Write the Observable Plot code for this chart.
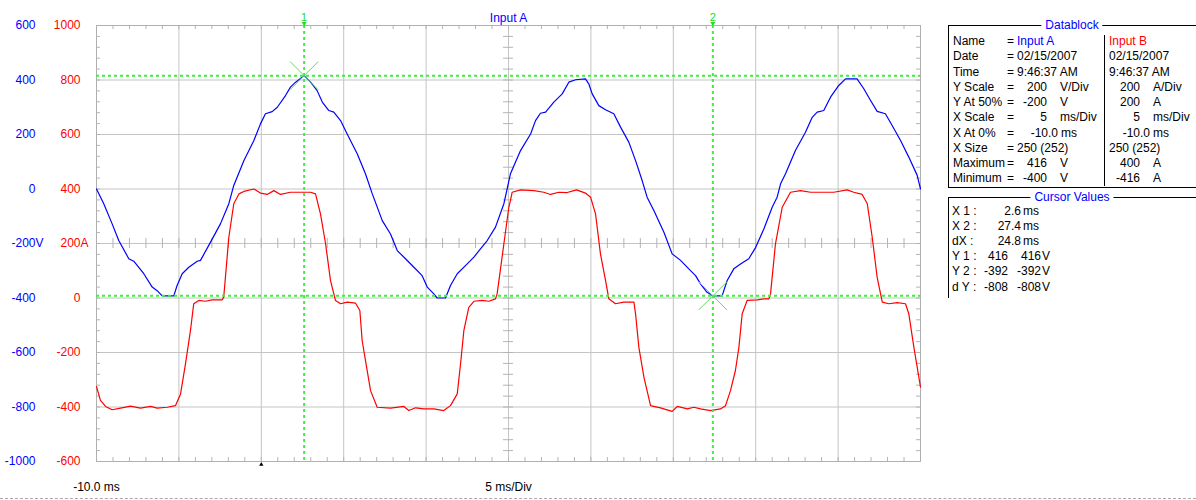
<!DOCTYPE html>
<html><head><meta charset="utf-8">
<script src="https://cdn.jsdelivr.net/npm/d3@7"></script>
<script src="https://cdn.jsdelivr.net/npm/@observablehq/plot@0.6"></script>
<style>
html,body{margin:0;padding:0;background:#fff;}
#root{position:relative;width:1196px;height:500px;overflow:hidden;font-family:'Liberation Sans',Arial,sans-serif;font-size:12px;color:#000;}
#root svg{position:absolute;left:0;top:0;}
.t{position:absolute;white-space:nowrap;line-height:14px;height:14px;}
.r{transform:translateX(-100%);}
.c{transform:translateX(-50%);background:#fff;padding:0 4px;color:#0000ff;}
</style></head><body><div id="root"></div>
<script>
// ---- Input A (volts) ----
const timeA = [-10,-9.56,-9.05,-8.65,-8.04,-7.74,-7.13,-6.62,-6.32,-6.01,-5.31,-5.11,-4.80,-4.40,-3.89,-3.69,-3.08,-2.48,-1.97,-1.67,-1.06,-0.45,-0.05,0.25,0.66,0.97,1.47,1.77,2.08,2.6,2.99,3.39,3.70,4.10,4.40,4.81,5.21,5.82,6.32,6.73,7.34,7.84,8.25,8.75,9.26,9.76,10.07,10.47,10.67,11.18,11.48,11.89,12.39,12.90,13.30,13.71,14.21,14.72,15.12,15.73,16.34,16.64,16.94,17.25,17.75,18.26,18.66,19.07,19.67,19.87,20.08,20.48,20.89,21.39,21.80,22.30,22.71,23.11,23.41,23.82,24.43,24.93,25.44,25.94,26.35,26.65,27.05,27.4,27.96,28.27,28.67,29.08,29.58,30.0,30.50,31.0,31.30,31.51,31.81,32.41,33.02,33.43,33.73,34.13,34.54,35.04,35.45,36.15,36.56,36.97,37.37,37.87,38.28,38.79,39.29,39.80,40];
const voltsA = [0,-54,-128,-189,-256,-265,-311,-360,-373,-392,-392,-354,-311,-287,-265,-262,-195,-128,-54,13,104,178,239,276,284,300,343,374,392,416,392,361,319,288,282,251,202,129,56,-17,-116,-165,-226,-256,-287,-318,-360,-385,-400,-400,-354,-311,-281,-250,-220,-189,-140,-54,56,141,202,251,278,282,319,349,392,401,404,386,349,306,291,276,227,172,104,31,-30,-79,-159,-238,-262,-293,-318,-348,-379,-392,-392,-336,-293,-275,-256,-214,-146,-67,-30,19,56,141,208,263,282,288,337,380,404,404,368,325,285,276,233,178,117,50,0];
// ---- Input B (amps) ----
const timeB = [-10,-9.76,-9.45,-9.05,-8.54,-7.94,-7.33,-6.72,-6.32,-5.71,-5.21,-4.90,-4.60,-4.30,-4.10,-3.79,-3.39,-2.98,-2.38,-2.28,-1.97,-1.67,-1.36,-1.06,-0.45,-0.05,0.36,0.76,1.17,1.77,2.99,3.29,3.59,3.90,4.20,4.50,4.81,5.21,5.72,5.98,6.12,6.32,6.63,7.03,7.84,8.65,8.95,9.36,9.86,10.47,11.07,11.48,11.89,12.09,12.29,12.59,12.90,13.40,13.81,14.21,14.31,14.72,15.02,15.12,15.22,15.73,16.54,17.14,17.55,18.05,18.56,19.13,19.67,19.98,20.28,20.58,20.89,21.09,21.49,22.00,22.61,22.71,22.91,23.22,23.62,24.22,24.93,25.24,25.85,26.25,26.65,27.26,27.86,28.17,28.47,28.77,28.98,29.18,29.48,30.09,30.50,30.80,30.90,31.20,31.61,32.11,32.72,33.33,34.74,35.55,35.95,36.46,36.77,37.07,37.37,37.68,38.08,38.59,39.09,39.29,39.60,40];
const ampsB = [-325,-376,-398,-410,-404,-397,-404,-398,-404,-401,-395,-352,-242,-120,-21,-9,-12,-7,-7,3,223,346,382,391,400,385,380,394,380,388,388,382,309,199,64,-9,-21,-15,-19,-46,-156,-229,-340,-401,-404,-398,-413,-403,-407,-407,-413,-395,-352,-242,-120,-34,-12,-9,-12,-3,15,199,333,358,388,397,394,388,380,388,387,397,385,370,309,162,64,-3,-21,-15,-15,-58,-181,-291,-395,-403,-416,-398,-407,-401,-407,-413,-407,-395,-340,-266,-181,-58,-9,-7,-3,-3,15,199,333,388,394,388,388,397,388,380,346,223,76,-15,-21,-17,-21,-58,-181,-327];

// ---- axes / scale settings ----
const voltTicks = [-1000,-800,-600,-400,-200,0,200,400,600];
const ampTicks = [-600,-400,-200,0,200,400,600,800,1000];
const timeTicks = [-10,-5,0,5,10,15,20,25,30,35,40];
const yAt50A = -200, yAt50B = 200;
const cursorX = [2.6, 27.4];
const cursorY = [416, -392];
const trigger = [0];

// ---- datablock text ----
const dbLabels = ["Name","Date","Time","Y Scale","Y At 50%","X Scale","X At 0%","X Size","Maximum","Minimum"];
const dbAText = ["Input A","02/15/2007","9:46:37 AM","200","-200","5","-10.0","250 (252)","416","-400"];
const dbAUnit = ["","","","V/Div","V","ms/Div","ms","","V","V"];
const dbBText = ["Input B","02/15/2007","9:46:37 AM","200","200","5","-10.0","250 (252)","400","-416"];
const dbBUnit = ["","","","A/Div","A","ms/Div","ms","","A","A"];
const cvLabels = ["X 1 :","X 2 :","dX :","Y 1 :","Y 2 :","d Y :"];
const cvA = ["2.6","27.4","24.8","416","-392","-808"];
const cvAUnit = ["ms","ms","ms","","",""];
const cvB = ["","","","416","-392","-808"];
const cvBUnit = ["","","","V","V","V"];

const seriesA = timeA.map((t,i)=>({t, v: voltsA[i]}));
const seriesB = timeB.map((t,i)=>({t, a: ampsB[i]}));
const offB = yAt50B - yAt50A;
const yTop = voltTicks[voltTicks.length-1];
const xMinor = d3.range(timeTicks[0], timeTicks[timeTicks.length-1] + 0.01, 1);
const yMinor = d3.range(voltTicks[0], yTop + 0.1, 40);
const cursorPts = cursorX.map((x,i)=>({x, y: cursorY[i]}));

const W = 940, H = 500, mL = 96, mR = 20, mT = 25, mB = 39;
const fw = W - mL - mR, fh = H - mT - mB;
const gridC = "#c4c4c4", tickC = "#b4b4b4", green = "#3cf03c", blue = "#0000ff", red = "#ff0000";

const plot = Plot.plot({
  width: W, height: H,
  marginLeft: mL, marginRight: mR, marginTop: mT, marginBottom: mB,
  x: {domain: [timeTicks[0], timeTicks[timeTicks.length-1]], axis: null},
  y: {domain: [voltTicks[0], yTop], axis: null},
  style: {fontFamily: "'Liberation Sans', Arial, sans-serif", fontSize: "12px", background: "transparent", overflow: "visible"},
  marks: [
    Plot.ruleX(timeTicks, {x: d=>d, stroke: gridC}),
    Plot.ruleY(voltTicks, {y: d=>d, stroke: gridC}),
    Plot.tickY(yMinor, {y: d=>d, stroke: tickC, insetRight: fw - 4}),
    Plot.tickY(yMinor, {y: d=>d, stroke: tickC, insetLeft: fw - 4}),
    Plot.tickX(xMinor, {x: d=>d, stroke: tickC, insetBottom: fh - 4}),
    Plot.tickX(xMinor, {x: d=>d, stroke: tickC, insetTop: fh - 4}),
    Plot.tickY(yMinor, {y: d=>d, stroke: tickC, insetLeft: fw/2 - 5, insetRight: fw/2 - 5}),
    Plot.tickX(xMinor, {x: d=>d, stroke: tickC, insetTop: fh/2 - 5, insetBottom: fh/2 - 5}),
    Plot.frame({stroke: "#b0b0b0"}),
    Plot.line(seriesB, {x: "t", y: d => d.a - offB, stroke: red, strokeWidth: 1.2}),
    Plot.line(seriesA, {x: "t", y: "v", stroke: blue, strokeWidth: 1.2}),
    Plot.ruleX(cursorX, {x: d=>d, stroke: green, strokeWidth: 2, strokeDasharray: "3,3"}),
    Plot.ruleY(cursorY, {y: d=>d, stroke: green, strokeWidth: 2, strokeDasharray: "3,3"}),
    Plot.dot(cursorPts, {x: "x", y: "y", symbol: "times", r: 12.8, stroke: "#5ee05e", strokeWidth: 1}),
    Plot.text(cursorX, {x: d=>d, text: (d,i)=>String(i+1), frameAnchor: "top", dy: -12, fill: "#22dd22", fontSize: 11}),
    Plot.dot(cursorX, {x: d=>d, y: () => yTop, symbol: "triangle", rotate: 180, r: 1.8, dy: -2, fill: "#22dd22", stroke: null}),
    Plot.dot(trigger, {x: d=>d, y: () => voltTicks[0], symbol: "triangle", r: 1.6, dy: 3, fill: "#000", stroke: null}),
    // left axes
    Plot.text(voltTicks, {y: d=>d, text: d=>String(d), frameAnchor: "left", dx: -61, textAnchor: "end", fill: blue, fontSize: 12}),
    Plot.text([yAt50A], {y: d=>d, text: () => "V", frameAnchor: "left", dx: -61, textAnchor: "start", fill: blue, fontSize: 12}),
    Plot.text(ampTicks, {y: d=>d - offB, text: d=>String(d), frameAnchor: "left", dx: -16, textAnchor: "end", fill: red, fontSize: 12}),
    Plot.text([yAt50B], {y: d=>d - offB, text: () => "A", frameAnchor: "left", dx: -16, textAnchor: "start", fill: red, fontSize: 12}),
    // title and bottom labels
    Plot.text(["Input A"], {text: d=>d, frameAnchor: "top", dy: -12, fill: blue, fontSize: 12}),
    Plot.text([timeTicks[0]], {x: d=>d, text: d=>d.toFixed(1) + " ms", frameAnchor: "bottom", dy: 29, fill: "#000", fontSize: 12}),
    Plot.text(["5 ms/Div"], {text: d=>d, frameAnchor: "bottom", dy: 29, fill: "#000", fontSize: 12})
  ]
});

const root = document.getElementById("root");
root.appendChild(plot);

function addText(txt, x, y, opts = {}) {
  const s = document.createElement("span");
  s.className = "t" + (opts.right ? " r" : "") + (opts.center ? " c" : "");
  s.textContent = txt;
  s.style.left = x + "px";
  s.style.top = (y - 7) + "px";
  if (opts.color) s.style.color = opts.color;
  root.appendChild(s);
  return s;
}
function addDiv(css) {
  const d = document.createElement("div");
  d.style.position = "absolute";
  Object.assign(d.style, css);
  root.appendChild(d);
}

// Datablock box
addDiv({left: "948px", top: "25px", width: "300px", height: "161px", border: "1px solid #000"});
addDiv({left: "1104px", top: "35px", height: "151px", borderLeft: "1px solid #000"});
addText("Datablock", 1072, 25, {center: true});
const rowY0 = 41, rowDY = 15.25;
dbLabels.forEach((lab, i) => {
  const y = rowY0 + i * rowDY;
  addText(lab, 953, y);
  addText("=", 1007, y);
  if (dbAUnit[i] === "") {
    addText(dbAText[i], 1017, y, {color: i === 0 ? blue : "#000"});
    addText(dbBText[i], 1109, y, {color: i === 0 ? red : "#000"});
  } else if (dbAUnit[i] === "ms") {
    addText(dbAText[i], 1058, y, {right: true});
    addText(dbAUnit[i], 1061, y);
    addText(dbBText[i], 1150, y, {right: true});
    addText(dbBUnit[i], 1153, y);
  } else {
    addText(dbAText[i], 1047, y, {right: true});
    addText(dbAUnit[i], 1060, y);
    addText(dbBText[i], 1140, y, {right: true});
    addText(dbBUnit[i], 1153, y);
  }
});

// Cursor Values box
addDiv({left: "948px", top: "197px", width: "300px", height: "100px", borderLeft: "1px solid #000", borderTop: "1px solid #000"});
addText("Cursor Values", 1072, 197, {center: true});
const cvY0 = 211, cvDY = 15.1;
cvLabels.forEach((lab, i) => {
  const y = cvY0 + i * cvDY;
  addText(lab, 952, y);
  if (cvB[i] === "") {
    addText(cvA[i], 1021, y, {right: true});
    addText(cvAUnit[i], 1023, y);
  } else {
    addText(cvA[i], 1008, y, {right: true});
    addText(cvB[i], 1041, y, {right: true});
    addText(cvBUnit[i], 1042, y);
  }
});

addDiv({left: "0px", top: "498px", width: "1196px", borderTop: "1px dashed #aaa"});
</script>
</body></html>
